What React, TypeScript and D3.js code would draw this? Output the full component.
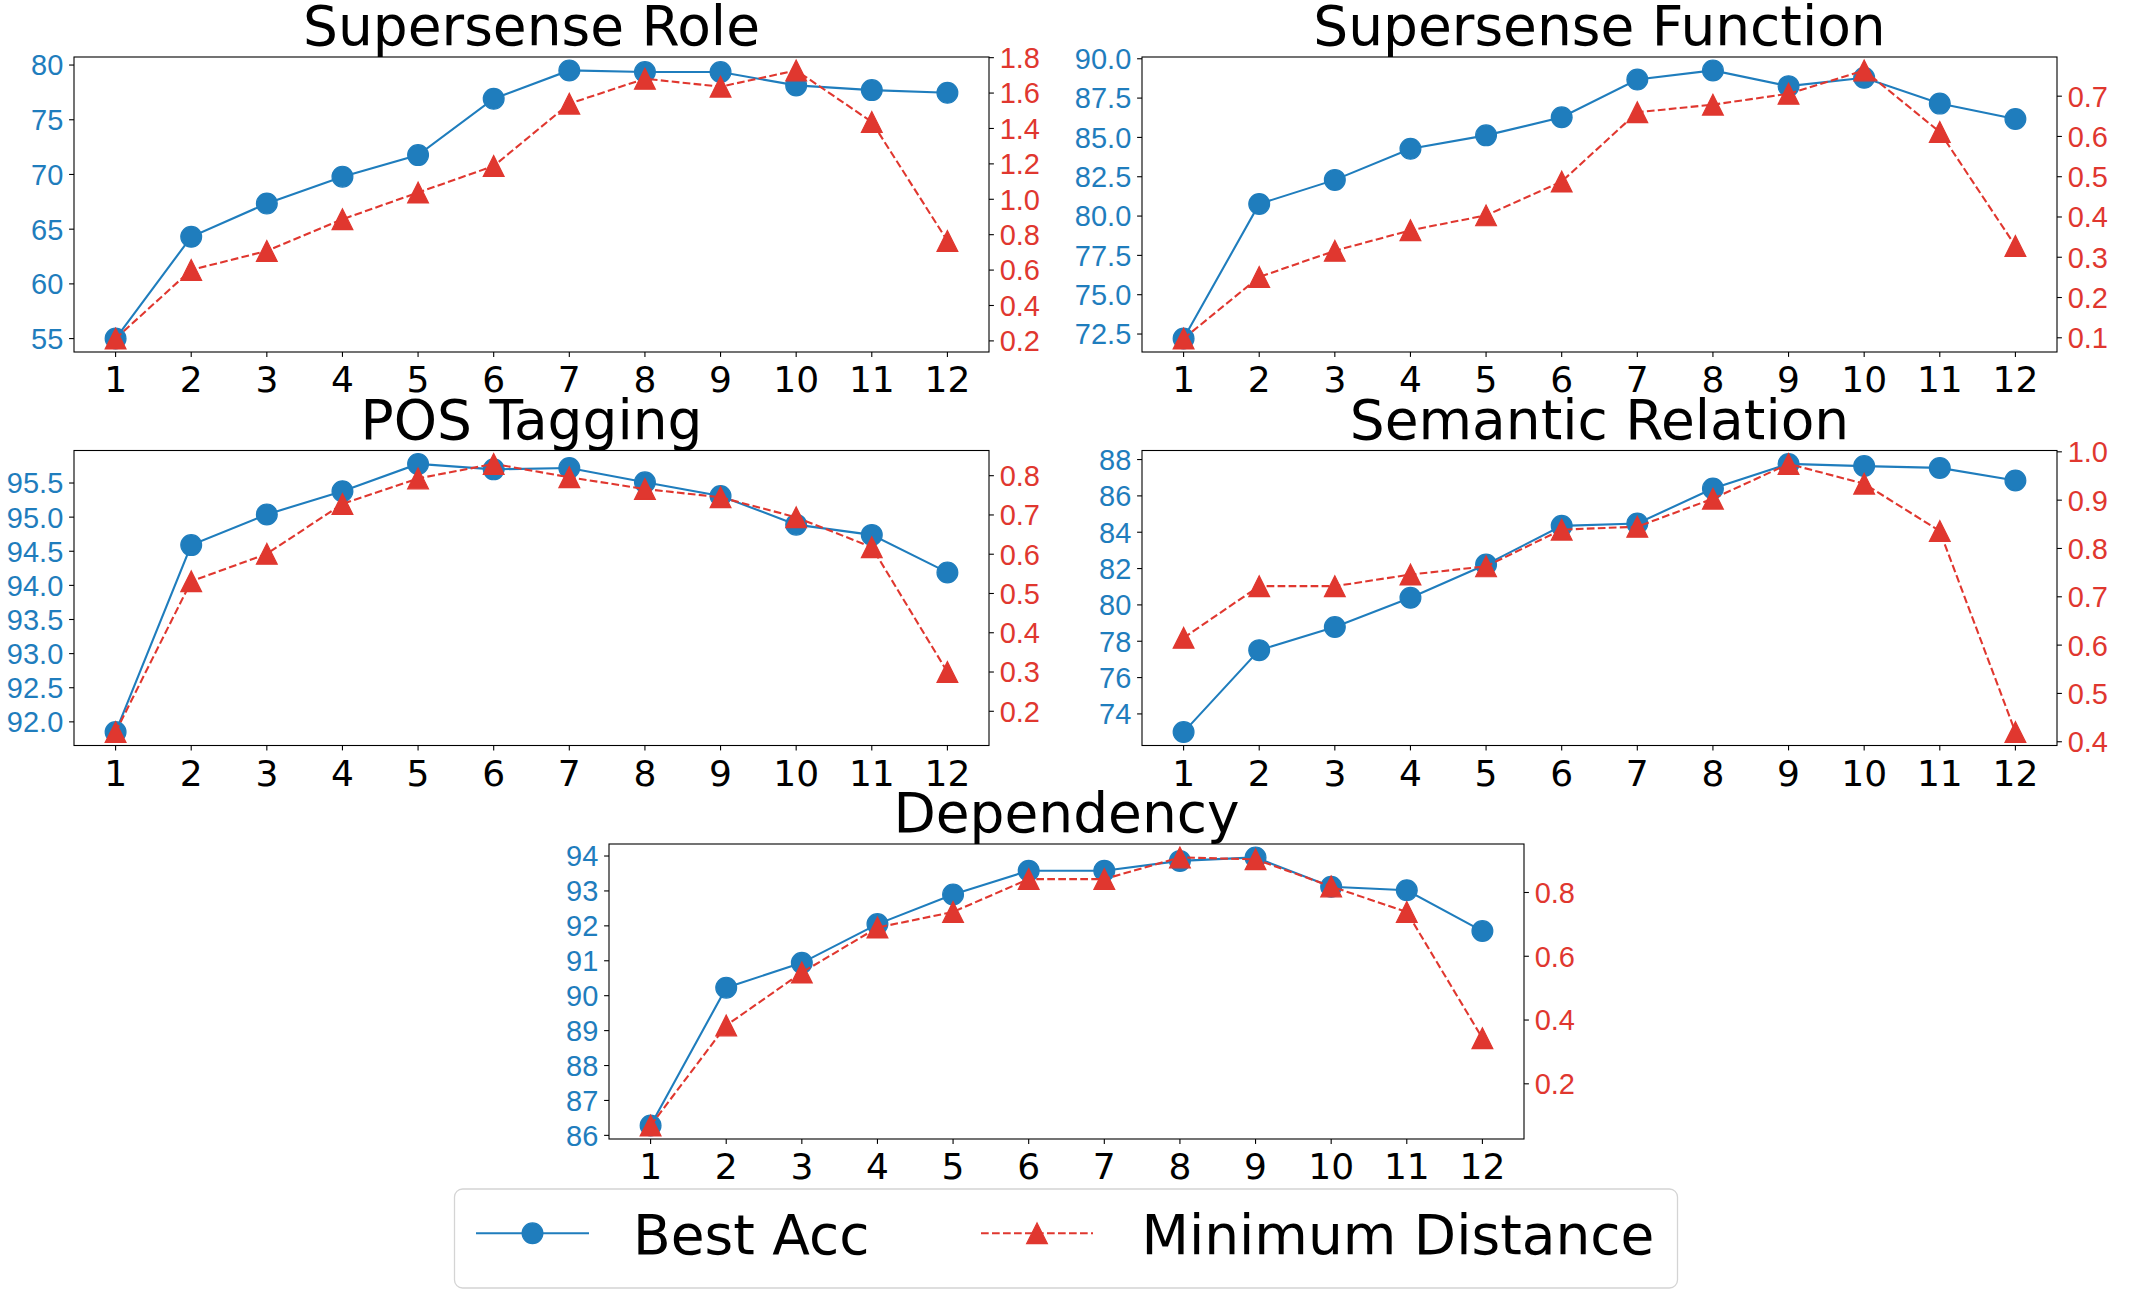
import React, { useEffect } from "react";
import * as d3 from "d3";

const layers = [1, 2, 3, 4, 5, 6, 7, 8, 9, 10, 11, 12];

const roleAcc = [55.0, 64.3, 67.35, 69.8, 71.77, 76.92, 79.51, 79.36, 79.36, 78.14, 77.71, 77.47];
const roleDist = [0.213, 0.601, 0.708, 0.887, 1.038, 1.188, 1.54, 1.681, 1.636, 1.728, 1.437, 0.765];
const roleAccTicks = [55, 60, 65, 70, 75, 80];
const roleDistTicks = [0.2, 0.4, 0.6, 0.8, 1.0, 1.2, 1.4, 1.6, 1.8];

const functionAcc = [72.21, 80.77, 82.3, 84.28, 85.13, 86.28, 88.68, 89.26, 88.26, 88.79, 87.15, 86.17];
const functionDist = [0.098, 0.251, 0.316, 0.367, 0.404, 0.488, 0.66, 0.679, 0.706, 0.764, 0.611, 0.328];
const functionAccTicks = [72.5, 75.0, 77.5, 80.0, 82.5, 85.0, 87.5, 90.0];
const functionDistTicks = [0.1, 0.2, 0.3, 0.4, 0.5, 0.6, 0.7];

const posAcc = [91.85, 94.59, 95.04, 95.38, 95.78, 95.7, 95.72, 95.51, 95.31, 94.89, 94.74, 94.19];
const posDist = [0.147, 0.531, 0.601, 0.728, 0.793, 0.83, 0.796, 0.766, 0.745, 0.694, 0.618, 0.3];
const posAccTicks = [92.0, 92.5, 93.0, 93.5, 94.0, 94.5, 95.0, 95.5];
const posDistTicks = [0.2, 0.3, 0.4, 0.5, 0.6, 0.7, 0.8];

const semAcc = [73.0, 77.51, 78.78, 80.39, 82.22, 84.35, 84.48, 86.41, 87.76, 87.64, 87.54, 86.85];
const semDist = [0.615, 0.722, 0.722, 0.746, 0.763, 0.839, 0.845, 0.903, 0.975, 0.934, 0.836, 0.42];
const semAccTicks = [74, 76, 78, 80, 82, 84, 86, 88];
const semDistTicks = [0.4, 0.5, 0.6, 0.7, 0.8, 0.9, 1.0];

const depAcc = [86.28, 90.23, 90.94, 92.05, 92.9, 93.58, 93.58, 93.86, 93.96, 93.12, 93.02, 91.85];
const depDist = [0.069, 0.383, 0.549, 0.69, 0.739, 0.842, 0.842, 0.91, 0.904, 0.819, 0.739, 0.343];
const depAccTicks = [86, 87, 88, 89, 90, 91, 92, 93, 94];
const depDistTicks = [0.2, 0.4, 0.6, 0.8];

const seriesNames = ["Best Acc", "Minimum Distance"];

const BLUE = "#1f7dbd";
const RED = "#e0372f";
const W = 2149;
const H = 1291;
const PW = 915;
const PH = 295;
const MS = 20.8;

const padDomain = (vals: number[]): [number, number] => {
  const [lo, hi] = d3.extent(vals) as [number, number];
  const m = (hi - lo) * 0.05;
  return [lo - m, hi + m];
};

type PanelProps = {
  title: string;
  x0: number;
  y0: number;
  acc: number[];
  dist: number[];
  accTicks: number[];
  distTicks: number[];
  accFmt: string;
  distFmt: string;
};

const triPath = (s: number) => `M0,${-s / 2}L${-s / 2},${s / 2}L${s / 2},${s / 2}Z`;

function Panel({ title, x0, y0, acc, dist, accTicks, distTicks, accFmt, distFmt }: PanelProps) {
  const x = d3.scaleLinear().domain([1 - 0.55, 12 + 0.55]).range([x0, x0 + PW]);
  const yL = d3.scaleLinear().domain(padDomain(acc)).range([y0 + PH, y0]);
  const yR = d3.scaleLinear().domain(padDomain(dist)).range([y0 + PH, y0]);
  const fL = d3.format(accFmt);
  const fR = d3.format(distFmt);
  const lineL = d3.line<number>().x((_, i) => x(layers[i])).y((d) => yL(d));
  const lineR = d3.line<number>().x((_, i) => x(layers[i])).y((d) => yR(d));
  const tickLen = 4.9;
  const right = x0 + PW;
  const bottom = y0 + PH;
  return (
    <g>
      <text x={x0 + PW / 2} y={y0 - 12} textAnchor="middle" fontFamily="DejaVu Sans" fontSize={55} fill="#000">
        {title}
      </text>
      <path d={lineL(acc) || ""} fill="none" stroke={BLUE} strokeWidth={2.1} />
      {acc.map((d, i) => (
        <circle key={"c" + i} cx={x(layers[i])} cy={yL(d)} r={MS / 2} fill={BLUE} stroke={BLUE} strokeWidth={1.2} />
      ))}
      <path d={lineR(dist) || ""} fill="none" stroke={RED} strokeWidth={2.1} strokeDasharray="7.7,3.3" />
      {dist.map((d, i) => (
        <path
          key={"t" + i}
          d={triPath(MS)}
          transform={`translate(${x(layers[i])},${yR(d)})`}
          fill={RED}
          stroke={RED}
          strokeWidth={1.2}
          strokeLinejoin="miter"
        />
      ))}
      <rect x={x0} y={y0} width={PW} height={PH} fill="none" stroke="#000" strokeWidth={1.1} />
      {layers.map((l) => (
        <g key={"x" + l}>
          <line x1={x(l)} x2={x(l)} y1={bottom} y2={bottom + tickLen} stroke="#000" strokeWidth={1.1} />
          <text x={x(l)} y={bottom + 40} textAnchor="middle" fontFamily="DejaVu Sans" fontSize={36} fill="#000">
            {l}
          </text>
        </g>
      ))}
      {accTicks.map((t) => (
        <g key={"l" + t}>
          <line x1={x0 - tickLen} x2={x0} y1={yL(t)} y2={yL(t)} stroke="#000" strokeWidth={1.1} />
          <text
            x={x0 - 10.7}
            y={yL(t) + 10.4}
            textAnchor="end"
            fontFamily="Liberation Sans, Arial, sans-serif"
            fontSize={29}
            fill={BLUE}
          >
            {fL(t)}
          </text>
        </g>
      ))}
      {distTicks.map((t) => (
        <g key={"r" + t}>
          <line x1={right} x2={right + tickLen} y1={yR(t)} y2={yR(t)} stroke="#000" strokeWidth={1.1} />
          <text
            x={right + 10.7}
            y={yR(t) + 10.4}
            textAnchor="start"
            fontFamily="Liberation Sans, Arial, sans-serif"
            fontSize={29}
            fill={RED}
          >
            {fR(t)}
          </text>
        </g>
      ))}
    </g>
  );
}

export default function App() {
  useEffect(() => {
    document.body.style.margin = "0";
  }, []);
  const legY = 1233.3;
  return (
    <svg width={W} height={H} style={{ position: "absolute", left: 0, top: 0, display: "block", background: "#fff" }}>
      <rect x={0} y={0} width={W} height={H} fill="#fff" />
      <Panel title="Supersense Role" x0={74} y0={57} acc={roleAcc} dist={roleDist} accTicks={roleAccTicks} distTicks={roleDistTicks} accFmt="d" distFmt=".1f" />
      <Panel title="Supersense Function" x0={1142} y0={57} acc={functionAcc} dist={functionDist} accTicks={functionAccTicks} distTicks={functionDistTicks} accFmt=".1f" distFmt=".1f" />
      <Panel title="POS Tagging" x0={74} y0={450.5} acc={posAcc} dist={posDist} accTicks={posAccTicks} distTicks={posDistTicks} accFmt=".1f" distFmt=".1f" />
      <Panel title="Semantic Relation" x0={1142} y0={450.5} acc={semAcc} dist={semDist} accTicks={semAccTicks} distTicks={semDistTicks} accFmt="d" distFmt=".1f" />
      <Panel title="Dependency" x0={609} y0={844} acc={depAcc} dist={depDist} accTicks={depAccTicks} distTicks={depDistTicks} accFmt="d" distFmt=".1f" />
      <g>
        <rect x={454.5} y={1189} width={1223} height={99} rx={8} ry={8} fill="#fff" fillOpacity={0.8} stroke="#d4d4d4" strokeWidth={1.3} />
        <line x1={476} x2={589} y1={legY} y2={legY} stroke={BLUE} strokeWidth={2.1} />
        <circle cx={532.5} cy={legY} r={MS / 2} fill={BLUE} stroke={BLUE} strokeWidth={1.2} />
        <text x={633} y={1254} fontFamily="DejaVu Sans" fontSize={55} fill="#000">
          {seriesNames[0]}
        </text>
        <line x1={981} x2={1093} y1={legY} y2={legY} stroke={RED} strokeWidth={2.1} strokeDasharray="7.7,3.3" />
        <path d={triPath(MS)} transform={`translate(1037,${legY})`} fill={RED} stroke={RED} strokeWidth={1.2} />
        <text x={1141.5} y={1254} fontFamily="DejaVu Sans" fontSize={55} fill="#000">
          {seriesNames[1]}
        </text>
      </g>
    </svg>
  );
}
